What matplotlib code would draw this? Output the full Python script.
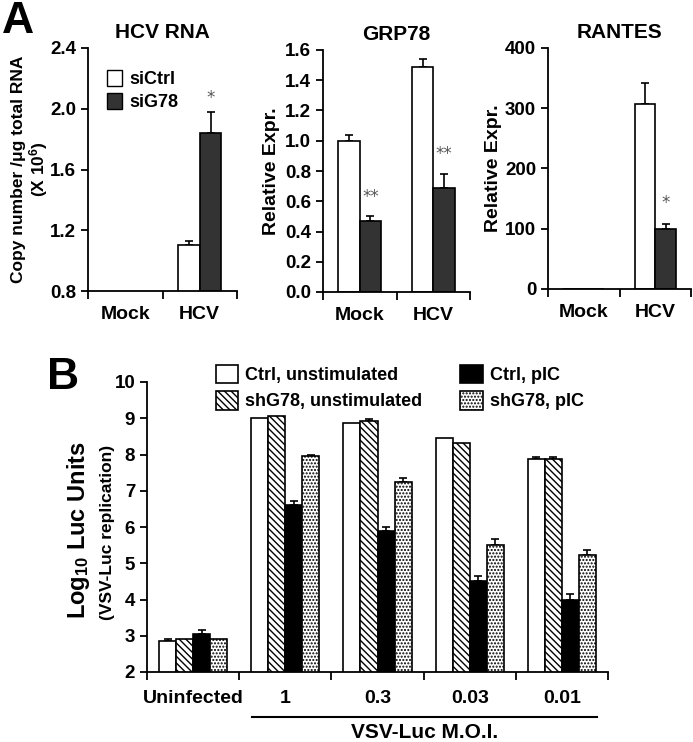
import numpy as np
import matplotlib
matplotlib.use('Agg')
import matplotlib.pyplot as plt
from matplotlib.patches import Patch
from matplotlib.lines import Line2D

plt.rcParams['font.family'] = ['Liberation Sans', 'DejaVu Sans']
plt.rcParams['font.weight'] = 'bold'
plt.rcParams['mathtext.fontset'] = 'custom'
plt.rcParams['mathtext.rm'] = 'Liberation Sans:bold'
plt.rcParams['mathtext.default'] = 'rm'
plt.rcParams['hatch.linewidth'] = 1.0
plt.rcParams['axes.linewidth'] = 1.3

# panel A data
a_groups = ['Mock', 'HCV']
hcv_ctrl = [0.0, 1.10]
hcv_ctrl_err = [0.0, 0.03]
hcv_g78 = [0.0, 1.84]
hcv_g78_err = [0.0, 0.14]

grp_ctrl = [1.00, 1.49]
grp_ctrl_err = [0.04, 0.05]
grp_g78 = [0.47, 0.69]
grp_g78_err = [0.03, 0.09]

ran_ctrl = [0.0, 307]
ran_ctrl_err = [0.0, 35]
ran_g78 = [0.0, 100]
ran_g78_err = [0.0, 8]

# significance marks on the siG78 bars
hcv_sig = ['', '*']
grp_sig = ['**', '**']
ran_sig = ['', '*']

# panel B data
b_groups = ['Uninfected', '1', '0.3', '0.03', '0.01']
ctrl_unstim = [2.86, 9.00, 8.88, 8.46, 7.88]
ctrl_unstim_err = [0.05, 0.0, 0.0, 0.0, 0.05]
sh_unstim = [2.91, 9.05, 8.92, 8.33, 7.88]
sh_unstim_err = [0.0, 0.0, 0.05, 0.0, 0.05]
ctrl_pic = [3.04, 6.60, 5.89, 4.50, 3.99]
ctrl_pic_err = [0.12, 0.12, 0.11, 0.16, 0.17]
sh_pic = [2.91, 7.96, 7.24, 5.49, 5.24]
sh_pic_err = [0.0, 0.04, 0.12, 0.18, 0.12]

W, H = 693, 742
fig = plt.figure(figsize=(W / 100, H / 100), dpi=100)


def px_axes(left, top, right, bottom):
    return fig.add_axes([left / W, 1 - bottom / H, (right - left) / W, (bottom - top) / H])


def style(ax, ngroups):
    ax.spines['top'].set_visible(False)
    ax.spines['right'].set_visible(False)
    ax.set_xlim(0, ngroups)
    ax.set_xticks(np.arange(ngroups) + 0.5)
    ax.set_xticks(np.arange(ngroups + 1), minor=True)
    ax.tick_params(axis='x', which='major', length=0, pad=11, labelsize=14)
    ax.tick_params(axis='x', which='minor', length=6, width=1.3)
    ax.tick_params(axis='y', length=5, width=1.3, labelsize=13.5)


def bold_ticks(ax):
    for t in ax.get_xticklabels() + ax.get_yticklabels():
        t.set_fontweight('bold')


def draw_pair(ax, c, ce, g, ge, sig, pad, dark='#333333'):
    x = np.arange(len(c)) + 0.5
    w = 0.29
    ax.bar(x - w / 2, c, w, color='white', edgecolor='black', linewidth=1.2, zorder=2)
    ax.bar(x + w / 2, g, w, color=dark, edgecolor='black', linewidth=1.2, zorder=2)
    for xi, v, e in zip(x - w / 2, c, ce):
        if e > 0:
            ax.errorbar(xi, v, yerr=[[0], [e]], fmt='none', ecolor='black', elinewidth=1.2, capsize=3, capthick=1.2, zorder=1)
    for xi, v, e, s in zip(x + w / 2, g, ge, sig):
        if e > 0:
            ax.errorbar(xi, v, yerr=[[0], [e]], fmt='none', ecolor='black', elinewidth=1.2, capsize=3, capthick=1.2, zorder=1)
        if s:
            ax.text(xi, v + e + pad, s, ha='center', va='center', color='#555555', fontsize=12, fontweight='normal', family='DejaVu Sans')


# HCV RNA
ax1 = px_axes(88, 48, 237, 291)
style(ax1, 2)
draw_pair(ax1, hcv_ctrl, hcv_ctrl_err, hcv_g78, hcv_g78_err, hcv_sig, 0.09)
ax1.set_ylim(0.8, 2.4)
ax1.set_yticks([0.8, 1.2, 1.6, 2.0, 2.4])
ax1.set_yticklabels(['0.8', '1.2', '1.6', '2.0', '2.4'])
ax1.set_xticklabels(a_groups)
bold_ticks(ax1)
ax1.set_title('HCV RNA', fontsize=15, fontweight='bold', pad=7)
ax1.set_ylabel('Copy number /\u03bcg total RNA\n(X 10$^{6}$)', fontsize=12.5, fontweight='bold', linespacing=1.05)
ax1.yaxis.set_label_coords(-0.255, 0.5)
ax1.legend(handles=[Patch(facecolor='white', edgecolor='black', label='siCtrl'),
                    Patch(facecolor='#333333', edgecolor='black', label='siG78')],
           loc='upper left', bbox_to_anchor=(0.08, 0.94), frameon=False,
           handlelength=0.85, handleheight=1.0, handletextpad=0.4, labelspacing=0.25, borderaxespad=0,
           prop={'weight': 'bold', 'size': 13})

# GRP78
ax2 = px_axes(323, 50, 470, 292)
style(ax2, 2)
draw_pair(ax2, grp_ctrl, grp_ctrl_err, grp_g78, grp_g78_err, grp_sig, 0.13)
ax2.set_ylim(0, 1.6)
ax2.set_yticks(np.arange(0, 1.61, 0.2))
ax2.set_yticklabels(['0.0', '0.2', '0.4', '0.6', '0.8', '1.0', '1.2', '1.4', '1.6'])
ax2.set_xticklabels(a_groups)
bold_ticks(ax2)
ax2.set_title('GRP78', fontsize=15, fontweight='bold', pad=7)
ax2.set_ylabel('Relative Expr.', fontsize=14, fontweight='bold')
ax2.yaxis.set_label_coords(-0.29, 0.5)

# RANTES
ax3 = px_axes(548, 48, 691, 289)
style(ax3, 2)
draw_pair(ax3, ran_ctrl, ran_ctrl_err, ran_g78, ran_g78_err, ran_sig, 35)
ax3.set_ylim(0, 400)
ax3.set_yticks([0, 100, 200, 300, 400])
ax3.set_xticklabels(a_groups)
bold_ticks(ax3)
ax3.set_title('RANTES', fontsize=15, fontweight='bold', pad=7)
ax3.set_ylabel('Relative Expr.', fontsize=14, fontweight='bold')
ax3.yaxis.set_label_coords(-0.32, 0.5)

# panel B
axb = px_axes(147, 382, 608, 672)
style(axb, 5)
xb = np.arange(len(b_groups)) + 0.5
bw = 0.185
series = [
    (ctrl_unstim, ctrl_unstim_err, dict(color='white'), 'Ctrl, unstimulated'),
    (sh_unstim, sh_unstim_err, dict(color='white', hatch='\\\\\\\\\\'), 'shG78, unstimulated'),
    (ctrl_pic, ctrl_pic_err, dict(color='black'), 'Ctrl, pIC'),
    (sh_pic, sh_pic_err, dict(color='white', hatch='.....'), 'shG78, pIC'),
]
handles = []
for i, (vals, errs, kw, lab) in enumerate(series):
    pos = xb + (i - 1.5) * bw
    bars = axb.bar(pos, vals, bw, edgecolor='black', linewidth=1.2, zorder=2, label=lab, **kw)
    handles.append(bars)
    for xi, v, e in zip(pos, vals, errs):
        if e > 0:
            axb.errorbar(xi, v, yerr=[[0], [e]], fmt='none', ecolor='black', elinewidth=1.2, capsize=3, capthick=1.2, zorder=1)
axb.set_ylim(2, 10)
axb.set_yticks(range(2, 11))
axb.set_xticklabels(b_groups)
axb.tick_params(axis='x', which='major', pad=13)
bold_ticks(axb)
axb.set_ylabel('Log$_{10}$ Luc Units', fontsize=17, fontweight='bold')
axb.yaxis.set_label_coords(-0.119, 0.49)
axb.text(-0.085, 0.48, '(VSV-Luc replication)', transform=axb.transAxes, rotation=90,
         ha='center', va='center', fontsize=12.5, fontweight='bold')
axb.legend(handles=handles, ncol=2, loc='upper left', bbox_to_anchor=(0.133, 1.085), frameon=False,
           handlelength=1.25, handleheight=1.2, handletextpad=0.4,
           labelspacing=0.4, columnspacing=2.1, borderaxespad=0,
           prop={'weight': 'bold', 'size': 13})

fig.add_artist(Line2D([252 / W, 597 / W], [1 - 717 / H, 1 - 717 / H], color='black', linewidth=1.5))
fig.text(425 / W, 1 - 733 / H, 'VSV-Luc M.O.I.', ha='center', va='center', fontsize=15, fontweight='bold')

fig.text(2 / W, 1 - 33 / H, 'A', fontsize=32, fontweight='bold', va='baseline', ha='left')
fig.text(47 / W, 1 - 389 / H, 'B', fontsize=32, fontweight='bold', va='baseline', ha='left')

fig.savefig('out.png', dpi=100)
